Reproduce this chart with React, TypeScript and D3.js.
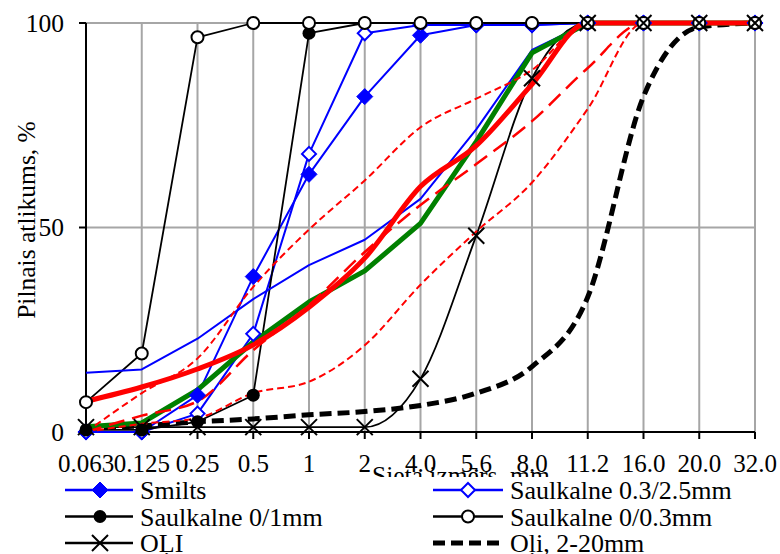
import React from "react";
import * as d3 from "d3";

const categories = ["0.063", "0.125", "0.25", "0.5", "1", "2", "4.0", "5.6", "8.0", "11.2", "16.0", "20.0", "32.0"];
const yTicks = [0, 50, 100];

const smilts = [0, 0, 9, 38, 63, 82, 97, 99.5, 99.5, 100, 100, 100, 100];
const saulk0325 = [0, 0, 4.5, 24, 68, 97.5, 99.5, 99.5, 99.5, 100, 100, 100, 100];
const saulk01 = [0.5, 0.5, 2.5, 9, 97.5, 100, 100, 100, 100, 100, 100, 100, 100];
const saulk003 = [7.3, 19.2, 96.5, 100, 100, 100, 100, 100, 100, 100, 100, 100, 100];
const oli = [1.2, 1.2, 1.2, 1.2, 1.2, 1.2, 13, 48, 86.5, 100, 100, 100, 100];
const oliDash = [1, 1.5, 2.5, 3.2, 4.2, 5, 6.5, 9.5, 16, 33, 82, 99, 100];
const blueThin = [14.5, 15.3, 22.8, 32.5, 40.8, 47, 57, 74, 93.4, 100, 100, 100, 100];
const greenLine = [1.3, 2.2, 10.3, 22, 31.8, 39.4, 51, 71, 92.7, 100, 100, 100, 100];
const redThick = [7.5, 11, 15.4, 21.3, 30.5, 42.5, 60, 70, 85, 100, 100, 100, 100];
const redDashUpper = [0, 9.5, 18, 35.5, 49.5, 61.5, 74.5, 81.5, 88.5, 100, 100, 100, 100];
const redDashLower = [0, 2, 3.4, 9.5, 12.3, 21.2, 36, 49, 61, 79, 100, 100, 100];
const redLongDash = [0, 4, 7.5, 20, 31, 44, 55.5, 65.5, 76, 89, 100, 100, 100];

const legendNames = ["Smilts", "Saulkalne 0.3/2.5mm", "Saulkalne 0/1mm", "Saulkalne 0/0.3mm", "OĻI", "Oļi, 2-20mm"];

type Series = {
  values: number[];
  color: string;
  width: number;
  dash?: string;
  smooth?: boolean;
  marker?: "diamond" | "diamondOpen" | "dot" | "circleOpen" | "x";
};

const FONT = "'Liberation Serif', 'Times New Roman', serif";

export default function App() {
  const W = 780, H = 554;
  const x = d3.scalePoint<string>().domain(categories).range([86, 755]);
  const y = d3.scaleLinear().domain([0, 100]).range([432, 23]);

  const unlabeled: Series[] = [
    { values: blueThin, color: "#0000FF", width: 2 },
    { values: greenLine, color: "#008000", width: 5 },
    { values: redDashUpper, color: "#FF0000", width: 2, dash: "7 4", smooth: true },
    { values: redDashLower, color: "#FF0000", width: 2, dash: "7 4", smooth: true },
    { values: redLongDash, color: "#FF0000", width: 2.5, dash: "16 8", smooth: true },
    { values: redThick, color: "#FF0000", width: 5, smooth: true },
  ];
  const labeled: Series[] = [
    { values: smilts, color: "#0000FF", width: 2, marker: "diamond" },
    { values: saulk0325, color: "#0000FF", width: 2, marker: "diamondOpen" },
    { values: saulk01, color: "#000000", width: 1.8, marker: "dot" },
    { values: saulk003, color: "#000000", width: 1.8, marker: "circleOpen" },
    { values: oli, color: "#000000", width: 1.8, marker: "x", smooth: true },
    { values: oliDash, color: "#000000", width: 5, dash: "12 6", smooth: true },
  ];

  const lineGen = (s: Series) =>
    d3
      .line<number>()
      .x((_, i) => x(categories[i]) as number)
      .y((v) => y(v))
      .curve(s.smooth ? d3.curveMonotoneX : d3.curveLinear)(s.values) || "";

  const renderMarker = (kind: Series["marker"], cx: number, cy: number, key: string) => {
    switch (kind) {
      case "diamond":
        return <path key={key} d={`M${cx},${cy - 8}L${cx + 8},${cy}L${cx},${cy + 8}L${cx - 8},${cy}Z`} fill="#0000FF" stroke="#0000FF" strokeWidth={1} />;
      case "diamondOpen":
        return <path key={key} d={`M${cx},${cy - 7}L${cx + 7},${cy}L${cx},${cy + 7}L${cx - 7},${cy}Z`} fill="#fff" stroke="#0000FF" strokeWidth={2} />;
      case "dot":
        return <circle key={key} cx={cx} cy={cy} r={6.5} fill="#000" />;
      case "circleOpen":
        return <circle key={key} cx={cx} cy={cy} r={6} fill="#fff" stroke="#000" strokeWidth={2} />;
      case "x":
        return <path key={key} d={`M${cx - 8},${cy - 8}L${cx + 8},${cy + 8}M${cx - 8},${cy + 8}L${cx + 8},${cy - 8}`} stroke="#000" strokeWidth={2} fill="none" />;
      default:
        return null;
    }
  };

  const allSeries = [...labeled, ...unlabeled];

  const legendRows = [0, 1, 2];
  const legendCols = [
    { lx0: 65, lx1: 133, mx: 100, tx: 140 },
    { lx0: 433, lx1: 503, mx: 468, tx: 510 },
  ];

  return (
    <svg width={W} height={H} style={{ position: "absolute", left: 0, top: 0, background: "#fff" }} fontFamily={FONT}>
      <rect x={0} y={0} width={W} height={H} fill="#fff" />
      {/* grid */}
      {categories.map((c) => (
        <line key={"g" + c} x1={x(c)} x2={x(c)} y1={y(100)} y2={y(0)} stroke="#A6A6A6" strokeWidth={2} />
      ))}
      {[50, 100].map((v) => (
        <line key={"h" + v} x1={86} x2={755} y1={y(v)} y2={y(v)} stroke="#A6A6A6" strokeWidth={2} />
      ))}
      {/* axes */}
      <line x1={86} x2={86} y1={y(100)} y2={y(0)} stroke="#000" strokeWidth={2} />
      <line x1={86} x2={755} y1={y(0)} y2={y(0)} stroke="#000" strokeWidth={2} />
      {yTicks.map((v) => (
        <g key={"yt" + v}>
          <line x1={79} x2={86} y1={y(v)} y2={y(v)} stroke="#000" strokeWidth={2} />
          <text x={64} y={y(v) + 8.5} textAnchor="end" fontSize={25.5}>{v}</text>
        </g>
      ))}
      {categories.map((c) => (
        <g key={"xt" + c}>
          <line x1={x(c)} x2={x(c)} y1={y(0)} y2={y(0) + 7} stroke="#000" strokeWidth={2} />
          <text x={x(c)} y={472} textAnchor="middle" fontSize={25}>{c}</text>
        </g>
      ))}
      <text x={372} y={484} fontSize={25.5}>Sieta izmērs, mm</text>
      <text transform="translate(35,220) rotate(-90)" textAnchor="middle" fontSize={25.5}>Pilnais atlikums, %</text>

      {/* lines */}
      {labeled.map((s, i) => (
        <path key={"l" + i} d={lineGen(s)} fill="none" stroke={s.color} strokeWidth={s.width} strokeDasharray={s.dash} strokeLinejoin="round" />
      ))}
      {unlabeled.map((s, i) => (
        <path key={"u" + i} d={lineGen(s)} fill="none" stroke={s.color} strokeWidth={s.width} strokeDasharray={s.dash} strokeLinejoin="round" />
      ))}
      {/* markers */}
      {allSeries.map((s, i) =>
        s.marker ? s.values.map((v, j) => renderMarker(s.marker, x(categories[j]) as number, y(v), `m${i}-${j}`)) : null
      )}

      {/* legend */}
      <rect x={40} y={477} width={730} height={77} fill="#fff" />
      {labeled.map((s, i) => {
        const col = legendCols[i % 2];
        const row = legendRows[Math.floor(i / 2)];
        const cy = 490 + row * 26.5;
        return (
          <g key={"lg" + i}>
            <line x1={col.lx0} x2={col.lx1} y1={cy} y2={cy} stroke={s.color} strokeWidth={s.dash ? 5 : s.width + 0.5} strokeDasharray={s.dash} />
            {renderMarker(s.marker, col.mx, cy, "lm" + i)}
            <text x={col.tx} y={cy + 9} fontSize={26}>{legendNames[i]}</text>
          </g>
        );
      })}
    </svg>
  );
}
